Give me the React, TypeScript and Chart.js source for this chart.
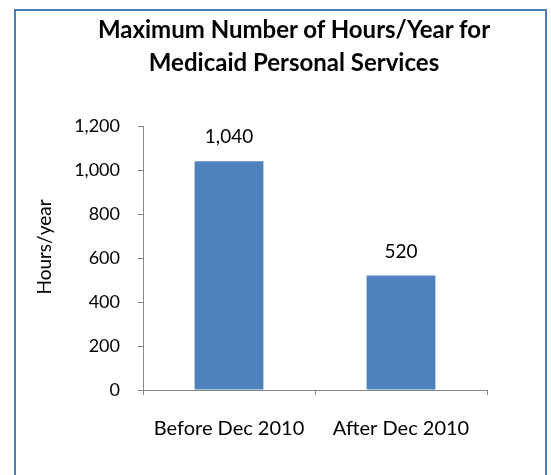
import React, { useEffect, useRef } from "react";
import { Chart, registerables } from "chart.js";

Chart.register(...registerables);

const categories = ["Before Dec 2010", "After Dec 2010"];
const hoursPerYear = [1040, 520];
const yTicks = [0, 200, 400, 600, 800, 1000, 1200];
const titleLines = ["Maximum Number of Hours/Year for", "Medicaid Personal Services"];
const yAxisTitle = "Hours/year";

const FONT = "Lato, 'Open Sans', sans-serif";
const BAR = "#4F81BD";
const AXIS = "#868686";

const valueLabels = {
  id: "valueLabels",
  afterDatasetsDraw(chart: any) {
    const ctx = chart.ctx;
    const meta = chart.getDatasetMeta(0);
    ctx.save();
    ctx.font = `19px ${FONT}`;
    ctx.fillStyle = "#000";
    ctx.textAlign = "center";
    ctx.textBaseline = "middle";
    meta.data.forEach((bar: any, i: number) => {
      const v = chart.data.datasets[0].data[i] as number;
      ctx.fillText(v.toLocaleString("en-US"), bar.x, bar.y - 24);
    });
    // y-axis title, slightly above the plot's vertical centre as in the original
    const area = chart.chartArea;
    ctx.font = `19px ${FONT}`;
    ctx.translate(45, (area.top + area.bottom) / 2 - 11);
    ctx.rotate(-Math.PI / 2);
    ctx.fillText(yAxisTitle, 0, 0);
    ctx.restore();
  },
};

export default function App() {
  const ref = useRef<HTMLCanvasElement | null>(null);
  useEffect(() => {
    if (!ref.current) return;
    const chart = new Chart(ref.current, {
      type: "bar",
      data: {
        labels: categories,
        datasets: [
          {
            data: hoursPerYear,
            backgroundColor: BAR,
            categoryPercentage: 1,
            barPercentage: 0.4,
          },
        ],
      },
      options: {
        animation: false,
        responsive: false,
        maintainAspectRatio: false,
        layout: { padding: { top: 126, left: 29, right: 64, bottom: 0 } },
        plugins: {
          legend: { display: false },
          tooltip: { enabled: false },
          title: { display: false },
        },
        scales: {
          x: {
            offset: true,
            grid: {
              display: true,
              offset: true,
              drawOnChartArea: false,
              drawTicks: true,
              tickLength: 5,
              color: AXIS,
            },
            border: { display: true, color: AXIS, width: 1 },
            ticks: {
              color: "#000",
              font: { family: FONT, size: 20 },
              padding: 22,
              maxRotation: 0,
            },
            afterFit: (s: any) => {
              s.height = 85;
            },
          },
          y: {
            min: 0,
            max: 1200,
            afterBuildTicks: (s: any) => {
              s.ticks = yTicks.map((v) => ({ value: v }));
            },
            grid: {
              display: true,
              drawOnChartArea: false,
              drawTicks: true,
              tickLength: 5,
              color: AXIS,
            },
            border: { display: true, color: AXIS, width: 1 },
            ticks: {
              color: "#000",
              font: { family: FONT, size: 18 },
              padding: 18,
              callback: (v: any) => Number(v).toLocaleString("en-US"),
            },
            title: { display: false },
            afterFit: (s: any) => {
              s.width = 114;
            },
          },
        },
      },
      plugins: [valueLabels],
    });
    return () => chart.destroy();
  }, []);

  return (
    <div style={{ position: "fixed", left: 0, top: 0, width: 551, height: 475, background: "#fff", overflow: "hidden" }}>
      <div
        style={{
          position: "absolute",
          left: 14,
          top: 9,
          width: 533,
          height: 480,
          boxSizing: "border-box",
          border: "2px solid #4A7EBB",
        }}
      />
      <canvas ref={ref} width={551} height={475} style={{ position: "absolute", left: 0, top: 0, width: 551, height: 475 }} />
      <div
        style={{
          position: "absolute",
          left: 0,
          top: 12,
          width: 588,
          textAlign: "center",
          fontFamily: FONT,
          fontWeight: 700,
          fontSize: 24,
          lineHeight: "33px",
          color: "#000",
        }}
      >
        {titleLines.map((t) => (
          <div key={t}>{t}</div>
        ))}
      </div>
    </div>
  );
}
